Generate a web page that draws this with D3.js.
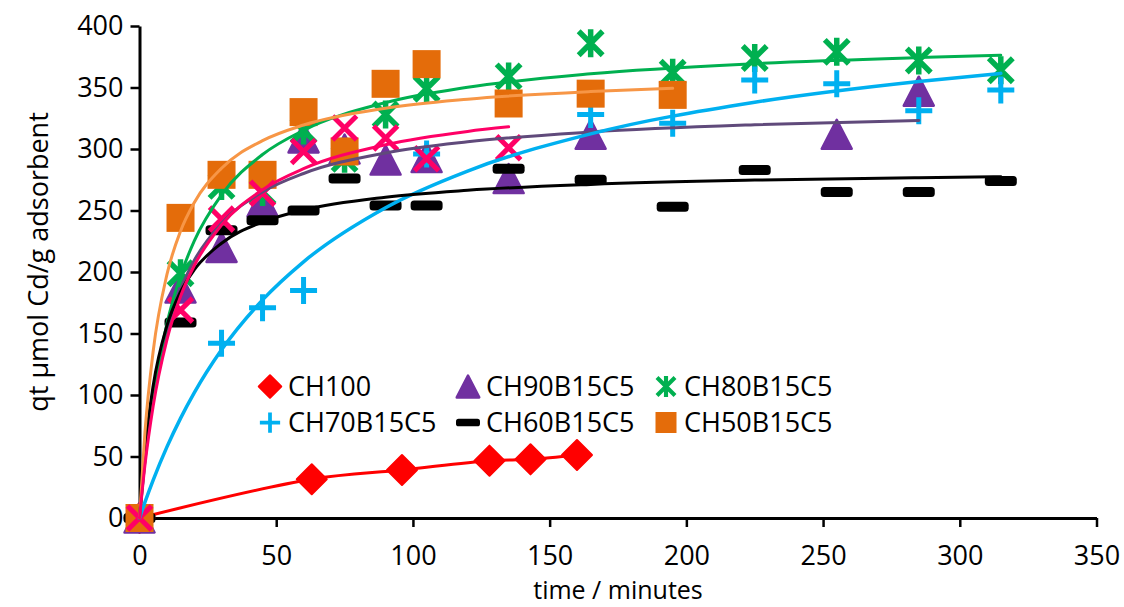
<!DOCTYPE html>
<html>
<head>
<meta charset="utf-8">
<script src="https://cdn.jsdelivr.net/npm/d3@7/dist/d3.min.js"></script>
<style>
  html, body { margin: 0; padding: 0; background: #fff; }
  svg { display: block; font-family: "Open Sans", sans-serif; }
</style>
</head>
<body>
<svg id="chart" width="1124" height="607"></svg>
<script>
// Adsorption kinetics: qt (µmol Cd/g adsorbent) against contact time (minutes)

// Axis ticks
const xTicks = [0, 50, 100, 150, 200, 250, 300, 350];
const yTicks = [0, 50, 100, 150, 200, 250, 300, 350, 400];

// Measured points
const ch100T = [0, 63, 96, 128, 143, 160];
const ch100Q = [0, 31.5, 39, 46.6, 47.7, 51.2];

const ch90T = [0, 15, 30, 45, 60, 75, 90, 105, 135, 165, 255, 285];
const ch90Q = [0, 187, 220, 257, 309, 300, 291, 293, 276, 312, 312, 347];

const ch80T = [0, 15, 30, 45, 60, 75, 90, 105, 135, 165, 195, 225, 255, 285, 315];
const ch80Q = [0, 199, 270, 265, 315, 292, 328, 349, 359, 386, 362, 374, 379, 372, 364];

const ch70T = [0, 30, 45, 60, 105, 165, 195, 225, 255, 285, 315];
const ch70Q = [0, 142, 171, 185, 296, 328, 321, 356, 353, 331, 348];

const ch60T = [0, 15, 30, 45, 60, 75, 90, 105, 135, 165, 195, 225, 255, 285, 315];
const ch60Q = [0, 159, 234, 242, 250, 276, 254, 254, 284, 275, 253, 283, 265, 265, 274];

const ch50T = [0, 15, 30, 45, 60, 75, 90, 105, 135, 165, 195];
const ch50Q = [0, 244, 279, 279, 330, 298, 353, 369, 337, 345, 344];

const pinkT = [0, 15, 30, 45, 60, 75, 90, 105, 135];
const pinkQ = [0, 169, 243, 264, 298, 317, 309, 292, 301];

// Fitted kinetic curves
const fitT = [0, 2, 5, 10, 15, 20, 30, 45, 60, 90, 120, 165, 225, 285, 315];
const fit80Q = [0, 46.4, 98.5, 157.6, 197, 225.1, 262.7, 295.5, 315.2, 337.7, 350.2, 361.2, 369.4, 374.3, 376.2];
const fit60Q = [0, 55.7, 107.6, 156.2, 183.8, 201.7, 223.4, 240.7, 250.4, 260.8, 266.4, 271.2, 274.7, 276.7, 277.5];
const fit70Q = [0, 12.9, 30.8, 57.6, 81.0, 101.7, 136.7, 177.3, 208.3, 252.3, 282.1, 312.3, 338.0, 354.9, 361.5];
const fit90T = [0, 2, 5, 10, 15, 20, 30, 45, 60, 90, 120, 165, 225, 285];
const fit90Q = [0, 47.5, 98.0, 151.8, 185.8, 209.3, 239.6, 265.1, 280.1, 296.8, 305.9, 313.8, 319.7, 323.2];
const fit50T = [0, 2, 5, 10, 15, 20, 30, 45, 60, 90, 120, 165, 195];
const fit50Q = [0, 69.8, 135.6, 197.6, 233.2, 256.3, 284.4, 306.8, 319.5, 333.2, 340.5, 346.7, 349.3];
const fitPinkT = [0, 2, 5, 10, 15, 20, 30, 45, 60, 90, 120, 135];
const fitPinkQ = [0, 43.2, 91.1, 144.7, 180.1, 205.1, 238.2, 266.9, 284.0, 303.5, 314.3, 318.0];

const zip = (t, q) => t.map((v, i) => [v, q[i]]);

const svg = d3.select("#chart");
const x = d3.scaleLinear().domain([0, 350]).range([139.5, 1096.5]);
const y = d3.scaleLinear().domain([0, 400]).range([518, 26]);

const FS = 27;

// Axes
const gx = svg.append("g").attr("transform", `translate(0,${y(0)})`)
  .call(d3.axisBottom(x).tickValues(xTicks).tickSize(9).tickSizeOuter(0).tickPadding(19));
const gy = svg.append("g").attr("transform", `translate(${x(0)},0)`)
  .call(d3.axisLeft(y).tickValues(yTicks).tickSize(9).tickSizeOuter(0).tickPadding(7));
[gx, gy].forEach(g => {
  g.select(".domain").attr("stroke", "#000").attr("stroke-width", 3);
  g.selectAll(".tick line").attr("stroke", "#000").attr("stroke-width", 2.5);
  g.selectAll(".tick text").attr("fill", "#000").style("font-size", FS + "px")
    .style("font-family", "'Open Sans', sans-serif");
});

// Axis titles
svg.append("text").attr("x", (x(0) + x(350)) / 2).attr("y", 599)
  .attr("text-anchor", "middle").style("font-size", "25px").text("time / minutes");
svg.append("text")
  .attr("transform", `translate(48,262) rotate(-90)`)
  .attr("text-anchor", "middle").style("font-size", FS + "px")
  .text("qt µmol Cd/g adsorbent");

// Marker painters (s = scale factor)
const markers = {
  diamond(g, c, s) {
    const r = 15 * s;
    g.append("path").attr("d", `M0,${-r}L${r},0L0,${r}L${-r},0Z`)
      .attr("fill", c).attr("stroke", c).attr("stroke-width", 2).attr("stroke-linejoin", "round");
  },
  triangle(g, c, s) {
    const w = 15 * s, h = 14.5 * s;
    g.append("path").attr("d", `M0,${-h}L${w},${h}L${-w},${h}Z`)
      .attr("fill", c).attr("stroke", c).attr("stroke-width", 2.5).attr("stroke-linejoin", "round");
  },
  star(g, c, s) {
    const a = 12 * s, b = 14 * s;
    g.append("path").attr("d", `M${-a},${-a}L${a},${a}M${a},${-a}L${-a},${a}M0,${-b}L0,${b}`)
      .attr("stroke", c).attr("stroke-width", 5.5 * s).attr("fill", "none");
  },
  plus(g, c, s) {
    const a = 13.5 * s;
    g.append("path").attr("d", `M${-a},0L${a},0M0,${-a}L0,${a}`)
      .attr("stroke", c).attr("stroke-width", 5 * s).attr("fill", "none");
  },
  dash(g, c, s) {
    const w = 32 * s, h = 10 * s;
    g.append("rect").attr("x", -w / 2).attr("y", -h / 2).attr("width", w).attr("height", h)
      .attr("rx", 3.5 * s).attr("fill", c);
  },
  square(g, c, s) {
    const w = 28 * s;
    g.append("rect").attr("x", -w / 2).attr("y", -w / 2).attr("width", w).attr("height", w).attr("fill", c);
  },
  cross(g, c, s) {
    const a = 12 * s;
    g.append("path").attr("d", `M${-a},${-a}L${a},${a}M${a},${-a}L${-a},${a}`)
      .attr("stroke", c).attr("stroke-width", 5 * s).attr("fill", "none");
  }
};

function drawPoints(pts, kind, color) {
  const g = svg.append("g");
  pts.forEach(([t, q]) => {
    const m = g.append("g").attr("transform", `translate(${x(t)},${y(q)})`);
    markers[kind](m, color, 1);
  });
}

function drawCurve(pts, color, width, curve) {
  svg.append("path").datum(pts)
    .attr("d", d3.line().x(d => x(d[0])).y(d => y(d[1])).curve(curve))
    .attr("fill", "none").attr("stroke", color).attr("stroke-width", width)
    .attr("stroke-linecap", "round");
}

const C = {
  red: "#FF0000", purple: "#7030A0", green: "#00B050", blue: "#00B0F0",
  black: "#000000", orange: "#E46C0A", pink: "#FF0066",
  purpleFit: "#604A7B", orangeFit: "#F79646"
};

// CH100 connected by a smoothed line
drawCurve(zip(ch100T, ch100Q), C.red, 3, d3.curveCatmullRom);
drawPoints(zip(ch100T, ch100Q), "diamond", C.red);
drawPoints(zip(ch90T, ch90Q), "triangle", C.purple);
drawPoints(zip(ch80T, ch80Q), "star", C.green);
drawPoints(zip(ch70T, ch70Q), "plus", C.blue);
drawPoints(zip(ch60T, ch60Q), "dash", C.black);
drawPoints(zip(ch50T, ch50Q), "square", C.orange);
drawPoints(zip(pinkT, pinkQ), "cross", C.pink);

// Fitted curves
drawCurve(zip(fit90T, fit90Q), C.purpleFit, 3, d3.curveMonotoneX);
drawCurve(zip(fitT, fit80Q), C.green, 3, d3.curveMonotoneX);
drawCurve(zip(fitT, fit70Q), C.blue, 3.5, d3.curveMonotoneX);
drawCurve(zip(fitT, fit60Q), C.black, 3, d3.curveMonotoneX);
drawCurve(zip(fit50T, fit50Q), C.orangeFit, 3, d3.curveMonotoneX);
drawCurve(zip(fitPinkT, fitPinkQ), C.pink, 3, d3.curveMonotoneX);

// Legend
const legendItems = [
  { name: "CH100", kind: "diamond", color: C.red, col: 0, row: 0 },
  { name: "CH90B15C5", kind: "triangle", color: C.purple, col: 1, row: 0 },
  { name: "CH80B15C5", kind: "star", color: C.green, col: 2, row: 0 },
  { name: "CH70B15C5", kind: "plus", color: C.blue, col: 0, row: 1 },
  { name: "CH60B15C5", kind: "dash", color: C.black, col: 1, row: 1 },
  { name: "CH50B15C5", kind: "square", color: C.orange, col: 2, row: 1 }
];
const colX = [270, 468, 666];
const rowY = [386.5, 422.5];
legendItems.forEach(d => {
  const g = svg.append("g").attr("transform", `translate(${colX[d.col]},${rowY[d.row]})`);
  markers[d.kind](g, d.color, 0.75);
  g.append("text").attr("x", 18).attr("y", 9.5).style("font-size", FS + "px").attr("fill", "#000").text(d.name);
});
</script>
</body>
</html>
